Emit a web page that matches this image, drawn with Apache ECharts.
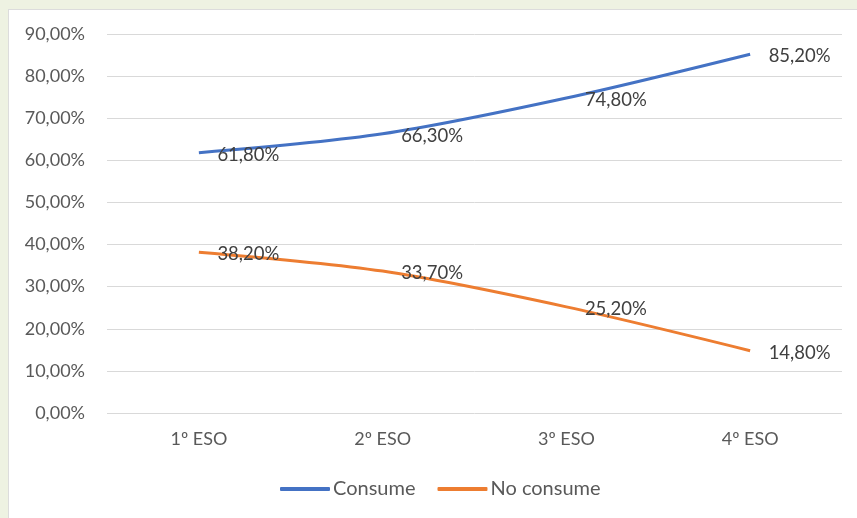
<!DOCTYPE html>
<html><head><meta charset="utf-8">
<script src="https://cdn.jsdelivr.net/npm/echarts@6/dist/echarts.min.js"></script>
<style>
html,body{margin:0;padding:0;width:857px;height:518px;background:#eef2e2;overflow:hidden;}
#box{position:absolute;left:8px;top:9px;width:860px;height:520px;background:#fff;border:1px solid #dcdcdc;}
#chart{position:absolute;left:0;top:0;width:857px;height:518px;}
</style></head>
<body><div id="box"></div><div id="chart"></div>
<script>
const categories = ['1º ESO', '2º ESO', '3º ESO', '4º ESO'];
const consume = [61.8, 66.3, 74.8, 85.2];
const noConsume = [38.2, 33.7, 25.2, 14.8];
const seriesNames = ['Consume', 'No consume'];
const colors = ['#4472C4', '#ED7D31'];
const fmt = v => v.toFixed(2).replace('.', ',') + '%';
const font = 'Lato, "Open Sans", sans-serif';
const chart = echarts.init(document.getElementById('chart'));
function mk(name, data, color) {
  return {
    name, type: 'line', data, smooth: 0.3,
    symbol: 'circle', symbolSize: 1,
    lineStyle: { color, width: 3 },
    itemStyle: { color: 'rgba(0,0,0,0)' },
    label: { show: true, position: 'right', distance: 18, offset:[0,2], color: '#404040',
      fontFamily: font, fontSize: 18.5, formatter: p => fmt(p.value) },
    emphasis: { disabled: true }
  };
}
chart.setOption({
  animation: false,
  textStyle: { fontFamily: font },
  grid: { left: 107, right: 15, top: 34, bottom: 105, containLabel: false },
  xAxis: { type: 'category', data: categories, boundaryGap: true,
    axisLine: { show: false }, axisTick: { show: false },
    axisLabel: { color: '#595959', fontSize: 18, fontFamily: font, margin: 17 } },
  yAxis: { type: 'value', min: 0, max: 90, interval: 10,
    axisLine: { show: false }, axisTick: { show: false },
    splitLine: { lineStyle: { color: '#d9d9d9', width: 1 } },
    axisLabel: { color: '#595959', fontSize: 18, fontFamily: font, margin: 22, formatter: v => fmt(v) } },
  legend: { bottom: 14, left: 275, itemWidth: 50, itemHeight: 4, itemGap: 22,
    icon: 'roundRect', textStyle: { color: '#595959', fontSize: 20, fontFamily: font, padding:[0,0,0,-2] },
    data: seriesNames.map((n, i) => ({ name: n, itemStyle: { color: colors[i] } })) },
  series: [mk(seriesNames[0], consume, colors[0]), mk(seriesNames[1], noConsume, colors[1])]
});
</script></body></html>
